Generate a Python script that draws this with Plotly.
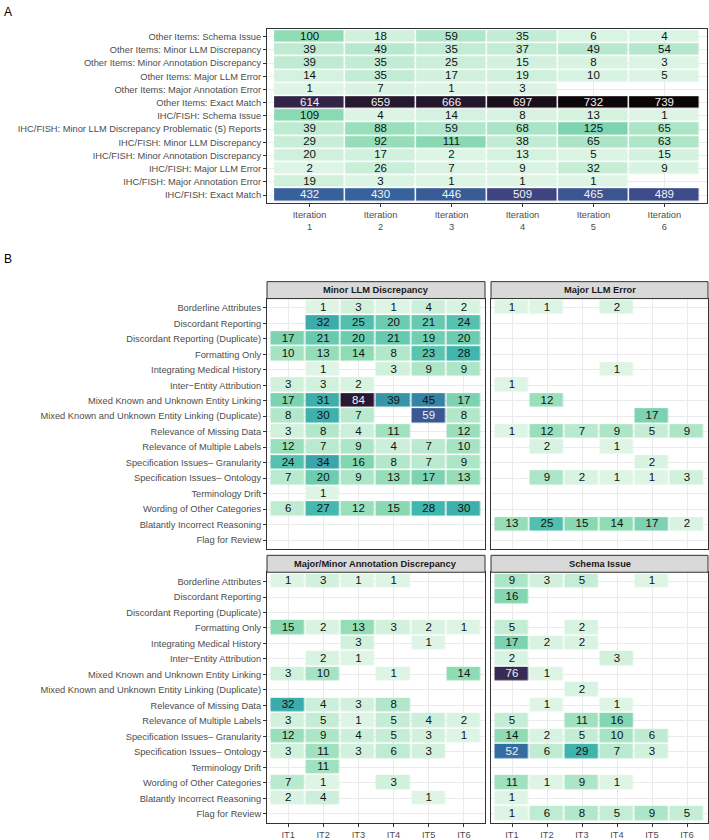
import plotly.graph_objects as go

W, H = 709, 840
FONT = "Liberation Sans"

# ---------------- Panel A data ----------------
a_rows = [
    "Other Items: Schema Issue",
    "Other Items: Minor LLM Discrepancy",
    "Other Items: Minor Annotation Discrepancy",
    "Other Items: Major LLM Error",
    "Other Items: Major Annotation Error",
    "Other Items: Exact Match",
    "IHC/FISH: Schema Issue",
    "IHC/FISH: Minor LLM Discrepancy Problematic (5) Reports",
    "IHC/FISH: Minor LLM Discrepancy",
    "IHC/FISH: Minor Annotation Discrepancy",
    "IHC/FISH: Major LLM Error",
    "IHC/FISH: Major Annotation Error",
    "IHC/FISH: Exact Match",
]
a_iters = ["Iteration 1", "Iteration 2", "Iteration 3", "Iteration 4", "Iteration 5", "Iteration 6"]
a_iter_labels = ["Iteration<br>1", "Iteration<br>2", "Iteration<br>3", "Iteration<br>4", "Iteration<br>5", "Iteration<br>6"]
a_values = [
    [100, 18, 59, 35, 6, 4],
    [39, 49, 35, 37, 49, 54],
    [39, 35, 25, 15, 8, 3],
    [14, 35, 17, 19, 10, 5],
    [1, 7, 1, 3, None, None],
    [614, 659, 666, 697, 732, 739],
    [109, 4, 14, 8, 13, 1],
    [39, 88, 59, 68, 125, 65],
    [29, 92, 111, 38, 65, 63],
    [20, 17, 2, 13, 5, 15],
    [2, 26, 7, 9, 32, 9],
    [19, 3, 1, 1, 1, None],
    [432, 430, 446, 509, 465, 489],
]

# ---------------- Panel B data ----------------
b_rows = [
    "Borderline Attributes",
    "Discordant Reporting",
    "Discordant Reporting (Duplicate)",
    "Formatting Only",
    "Integrating Medical History",
    "Inter\u2212Entity Attribution",
    "Mixed Known and Unknown Entity Linking",
    "Mixed Known and Unknown Entity Linking (Duplicate)",
    "Relevance of Missing Data",
    "Relevance of Multiple Labels",
    "Specification Issues\u2013 Granularity",
    "Specification Issues\u2013 Ontology",
    "Terminology Drift",
    "Wording of Other Categories",
    "Blatantly Incorrect Reasoning",
    "Flag for Review",
]
b_iters = ["IT1", "IT2", "IT3", "IT4", "IT5", "IT6"]
b_facets = ["Minor LLM Discrepancy", "Major LLM Error",
            "Major/Minor Annotation Discrepancy", "Schema Issue"]
N = None
b_minor_llm = [
    [N, 1, 3, 1, 4, 2],
    [N, 32, 25, 20, 21, 24],
    [17, 21, 20, 21, 19, 20],
    [10, 13, 14, 8, 23, 28],
    [N, 1, N, 3, 9, 9],
    [3, 3, 2, N, N, N],
    [17, 31, 84, 39, 45, 17],
    [8, 30, 7, N, 59, 8],
    [3, 8, 4, 11, N, 12],
    [12, 7, 9, 4, 7, 10],
    [24, 34, 16, 8, 7, 9],
    [7, 20, 9, 13, 17, 13],
    [N, 1, N, N, N, N],
    [6, 27, 12, 15, 28, 30],
    [N, N, N, N, N, N],
    [N, N, N, N, N, N],
]
b_major_llm = [
    [1, 1, N, 2, N, N],
    [N, N, N, N, N, N],
    [N, N, N, N, N, N],
    [N, N, N, N, N, N],
    [N, N, N, 1, N, N],
    [1, N, N, N, N, N],
    [N, 12, N, N, N, N],
    [N, N, N, N, 17, N],
    [1, 12, 7, 9, 5, 9],
    [N, 2, N, 1, N, N],
    [N, N, N, N, 2, N],
    [N, 9, 2, 1, 1, 3],
    [N, N, N, N, N, N],
    [N, N, N, N, N, N],
    [13, 25, 15, 14, 17, 2],
    [N, N, N, N, N, N],
]
b_annotation = [
    [1, 3, 1, 1, N, N],
    [N, N, N, N, N, N],
    [N, N, N, N, N, N],
    [15, 2, 13, 3, 2, 1],
    [N, N, 3, N, 1, N],
    [N, 2, 1, N, N, N],
    [3, 10, N, 1, N, 14],
    [N, N, N, N, N, N],
    [32, 4, 3, 8, N, N],
    [3, 5, 1, 5, 4, 2],
    [12, 9, 4, 5, 3, 1],
    [3, 11, 3, 6, 3, N],
    [N, 11, N, N, N, N],
    [7, 1, N, 3, N, N],
    [2, 4, N, N, 1, N],
    [N, N, N, N, N, N],
]
b_schema = [
    [9, 3, 5, N, 1, N],
    [16, N, N, N, N, N],
    [N, N, N, N, N, N],
    [5, N, 2, N, N, N],
    [17, 2, 2, N, N, N],
    [2, N, N, 3, N, N],
    [76, 1, N, N, N, N],
    [N, N, 2, N, N, N],
    [N, 1, N, 1, N, N],
    [5, N, 11, 16, N, N],
    [14, 2, 5, 10, 6, N],
    [52, 6, 29, 7, 3, N],
    [N, N, N, N, N, N],
    [11, 1, 9, 1, N, N],
    [1, N, N, N, N, N],
    [1, 6, 8, 5, 9, 5],
]

# ---------------- colour scale (mako, reversed) ----------------
mako = [
    (0.0, "#0B0405"), (0.143, "#2E1E3B"), (0.286, "#413D7B"), (0.429, "#37659E"),
    (0.571, "#348FA7"), (0.714, "#40B7AD"), (0.857, "#8BDAB2"), (1.0, "#DEF5E5"),
]
mako_r = sorted([[round(1 - t, 4), c] for t, c in mako], key=lambda p: p[0])


def px_x(px):
    return px / W


def px_y(py):
    return 1 - py / H


fig = go.Figure()
GRID = "#EBEBEB"
LINE = "#333333"
TICKC = "#4D4D4D"
TICKSIZE = 9.3


def add_panel(idx, values, cols, rows, zmin, zmax, gap):
    xa = "x" if idx == 1 else f"x{idx}"
    ya = "y" if idx == 1 else f"y{idx}"
    fig.add_trace(go.Heatmap(
        z=values, x=cols, y=rows, colorscale=mako_r, zmin=zmin, zmax=zmax,
        xgap=gap, ygap=gap, showscale=False, hoverinfo="skip",
        xaxis=xa, yaxis=ya,
    ))
    tx, ty, tt, tc = [], [], [], []
    for r, row in enumerate(values):
        for c, v in enumerate(row):
            if v is None:
                continue
            tx.append(cols[c])
            ty.append(rows[r])
            tt.append(str(v))
            frac = (v - zmin) / (zmax - zmin)
            tc.append("#F2F2F2" if frac > 0.5 else "#111111")
    fig.add_trace(go.Scatter(
        x=tx, y=ty, text=tt, mode="text", hoverinfo="skip", showlegend=False,
        textfont=dict(family=FONT, size=11.5, color=tc),
        xaxis=xa, yaxis=ya,
    ))


add_panel(1, a_values, a_iters, a_rows, 1, 739, 1.5)
b_sets = [b_minor_llm, b_major_llm, b_annotation, b_schema]
for i, vals in enumerate(b_sets):
    add_panel(i + 2, vals, b_iters, b_rows, 1, 95, 1.5)

# domains (pixel based)
A_x = (267, 707)
A_y = (29, 204)
B_cols = [(267, 485), (491, 708)]
B_rows = [(300, 552), (575, 827)]
STRIP = 17

layout = dict(
    width=W, height=H, margin=dict(l=0, r=0, t=0, b=0), autosize=False,
    paper_bgcolor="white", plot_bgcolor="white", showlegend=False,
    font=dict(family=FONT, size=TICKSIZE, color=TICKC),
)


def xaxis_cfg(dom, anchor, cats, show_labels, ticktext=None):
    d = dict(
        domain=[px_x(dom[0]), px_x(dom[1])], anchor=anchor, type="category",
        categoryorder="array", categoryarray=cats, range=[-0.6, len(cats) - 0.4],
        showgrid=True, gridcolor=GRID, gridwidth=1, zeroline=False,
        showline=True, mirror=True, linecolor=LINE, linewidth=1,
        fixedrange=True,
    )
    if show_labels:
        d.update(ticks="outside", ticklen=3, tickwidth=1, tickcolor=LINE,
                 showticklabels=True, tickfont=dict(family=FONT, size=TICKSIZE, color=TICKC))
        if ticktext is not None:
            d.update(tickmode="array", tickvals=cats, ticktext=ticktext)
    else:
        d.update(ticks="", showticklabels=False)
    return d


def yaxis_cfg(dom, anchor, cats, show_labels):
    d = dict(
        domain=[px_y(dom[1]), px_y(dom[0])], anchor=anchor, type="category",
        categoryorder="array", categoryarray=cats, range=[len(cats) - 0.4, -0.6],
        showgrid=True, gridcolor=GRID, gridwidth=1, zeroline=False,
        showline=True, mirror=True, linecolor=LINE, linewidth=1,
        fixedrange=True,
    )
    if show_labels:
        d.update(ticks="outside", ticklen=3, tickwidth=1, tickcolor=LINE,
                 showticklabels=True, tickfont=dict(family=FONT, size=TICKSIZE, color=TICKC))
    else:
        d.update(ticks="", showticklabels=False)
    return d


layout["xaxis"] = xaxis_cfg(A_x, "y", a_iters, True, a_iter_labels)
layout["yaxis"] = yaxis_cfg(A_y, "x", a_rows, True)

shapes = []
annotations = []
for i in range(4):
    r, c = divmod(i, 2)
    n = i + 2
    layout[f"xaxis{n}"] = xaxis_cfg(B_cols[c], f"y{n}", b_iters, r == 1)
    layout[f"yaxis{n}"] = yaxis_cfg(B_rows[r], f"x{n}", b_rows, c == 0)
    top = B_rows[r][0]
    shapes.append(dict(
        type="rect", xref="paper", yref="paper",
        x0=px_x(B_cols[c][0]), x1=px_x(B_cols[c][1]),
        y0=px_y(top), y1=px_y(top - STRIP),
        fillcolor="#D9D9D9", line=dict(color=LINE, width=1), layer="above",
    ))
    annotations.append(dict(
        xref="paper", yref="paper", x=px_x((B_cols[c][0] + B_cols[c][1]) / 2),
        y=px_y(top - STRIP / 2), text=f"<b>{b_facets[i]}</b>", showarrow=False,
        xanchor="center", yanchor="middle",
        font=dict(family=FONT, size=9.3, color="#1A1A1A"),
    ))

annotations.append(dict(xref="paper", yref="paper", x=px_x(2), y=px_y(3), text="A",
                        showarrow=False, xanchor="left", yanchor="top",
                        font=dict(family=FONT, size=12, color="#000000")))
annotations.append(dict(xref="paper", yref="paper", x=px_x(2), y=px_y(251), text="B",
                        showarrow=False, xanchor="left", yanchor="top",
                        font=dict(family=FONT, size=12, color="#000000")))

layout["shapes"] = shapes
layout["annotations"] = annotations
fig.update_layout(**layout)
fig.write_html(
    "out.html",
    config={"displayModeBar": False},
    post_script="document.body.style.margin='0';document.body.style.overflow='hidden';",
)
